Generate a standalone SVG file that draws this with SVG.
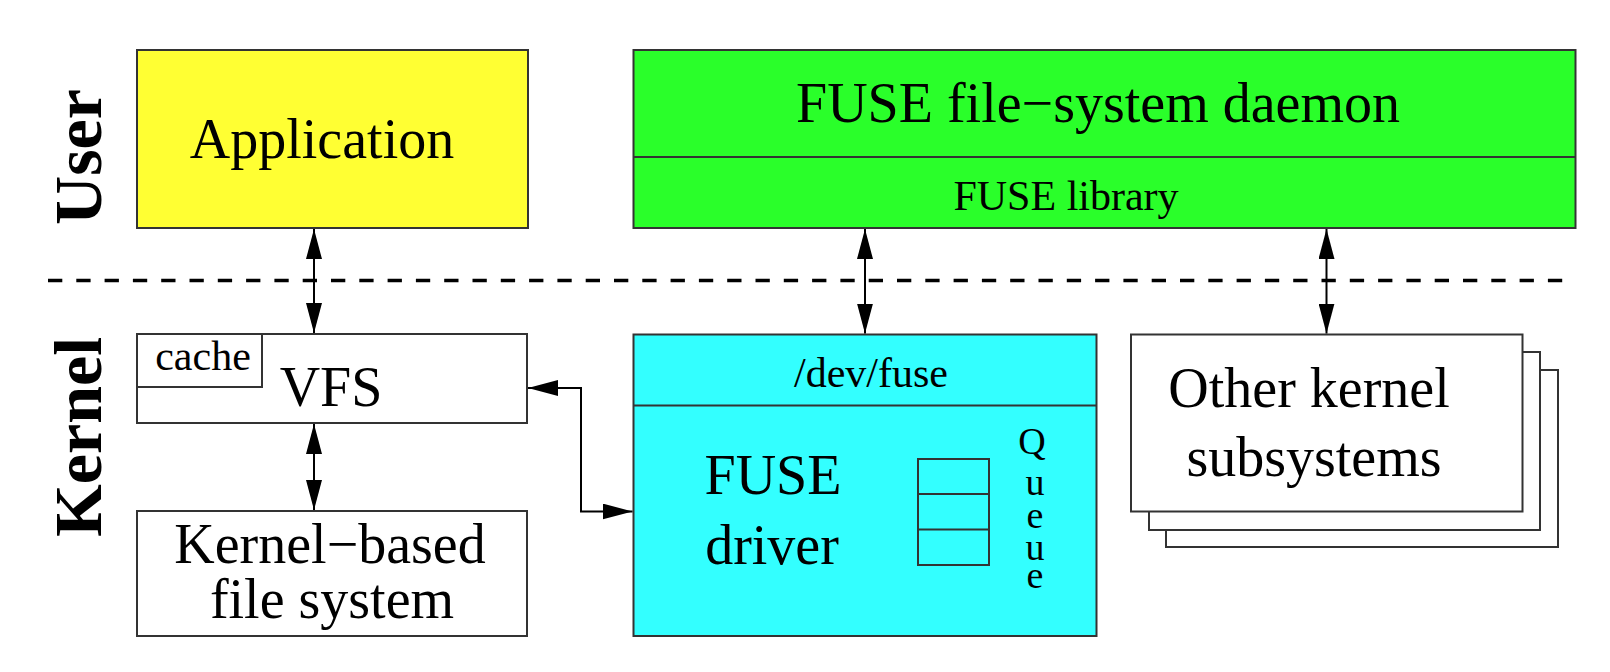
<svg xmlns="http://www.w3.org/2000/svg" width="1610" height="672" viewBox="0 0 1610 672">
<defs>
<marker id="ah" viewBox="0 0 30 16" refX="30" refY="8" markerWidth="30" markerHeight="16" markerUnits="userSpaceOnUse" orient="auto-start-reverse">
<path d="M0,0 L30,8 L0,16 Z" fill="#000"/>
</marker>
</defs>
<style>
.box{stroke:#333;stroke-width:2}
.t{font-family:"Liberation Serif","Times New Roman",serif;fill:#000;text-anchor:middle}
.big{font-size:56px}
.mid{font-size:42px}
.q{font-size:38px}
.side{font-size:68px;font-weight:bold}
.c{fill:none;stroke:#000;stroke-width:2}
</style>
<rect width="1610" height="672" fill="#fff"/>
<g id="labels">
<text class="t side" transform="translate(101,157) rotate(-90)">User</text>
<text class="t side" transform="translate(101,437) rotate(-90)">Kernel</text>
</g>
<line x1="48" y1="280.5" x2="1568" y2="280.5" stroke="#000" stroke-width="3.5" stroke-dasharray="14.3,14"/>
<g id="application">
<rect class="box" x="137" y="50" width="391" height="178" fill="#ffff33"/>
<text class="t big" x="322" y="158">Application</text>
</g>
<g id="fuse-daemon">
<rect class="box" x="633.5" y="50" width="942" height="178" fill="#2aff2a"/>
<line class="box" x1="633.5" y1="157" x2="1575.5" y2="157"/>
<text class="t big" x="1098" y="122">FUSE file−system daemon</text>
<text class="t mid" x="1066" y="210">FUSE library</text>
</g>
<g id="vfs">
<rect class="box" x="137" y="334" width="390" height="89" fill="#fff"/>
<rect class="box" x="137" y="334" width="125" height="53" fill="#fff"/>
<text class="t" style="font-size:42px" x="203" y="370">cache</text>
<text class="t big" x="331" y="406">VFS</text>
</g>
<g id="kernel-fs">
<rect class="box" x="137" y="511" width="390" height="125" fill="#fff"/>
<text class="t big" x="330" y="563">Kernel−based</text>
<text class="t big" x="332" y="618">file system</text>
</g>
<g id="fuse-driver">
<rect class="box" x="633.5" y="334.5" width="463" height="301.5" fill="#33ffff"/>
<line class="box" x1="633.5" y1="405.5" x2="1096.5" y2="405.5"/>
<text class="t mid" x="871" y="387">/dev/fuse</text>
<text class="t big" x="773" y="494">FUSE</text>
<text class="t big" x="772" y="564">driver</text>
<rect class="box" x="918" y="459" width="71" height="106" fill="none"/>
<line class="box" x1="918" y1="494" x2="989" y2="494"/>
<line class="box" x1="918" y1="529.5" x2="989" y2="529.5"/>
<text class="t q"><tspan x="1032" y="454">Q</tspan><tspan x="1035" y="495">u</tspan><tspan x="1035" y="528">e</tspan><tspan x="1035" y="560">u</tspan><tspan x="1035" y="588">e</tspan></text>
</g>
<g id="other-kernel">
<rect class="box" x="1166" y="370" width="392" height="177" fill="#fff"/>
<rect class="box" x="1149" y="352" width="391" height="178" fill="#fff"/>
<rect class="box" x="1131" y="334.5" width="391.5" height="177" fill="#fff"/>
<text class="t big" x="1309" y="407">Other kernel</text>
<text class="t big" x="1314" y="476">subsystems</text>
</g>
<g id="connectors">
<line class="c" x1="314" y1="229" x2="314" y2="333" marker-start="url(#ah)" marker-end="url(#ah)"/>
<line class="c" x1="865" y1="229" x2="865" y2="333.5" marker-start="url(#ah)" marker-end="url(#ah)"/>
<line class="c" x1="1326.5" y1="229" x2="1326.5" y2="333.5" marker-start="url(#ah)" marker-end="url(#ah)"/>
<line class="c" x1="314" y1="424" x2="314" y2="510" marker-start="url(#ah)" marker-end="url(#ah)"/>
<polyline class="c" points="528,388 581,388 581,511.5 632.5,511.5" marker-start="url(#ah)" marker-end="url(#ah)"/>
</g>
</svg>
